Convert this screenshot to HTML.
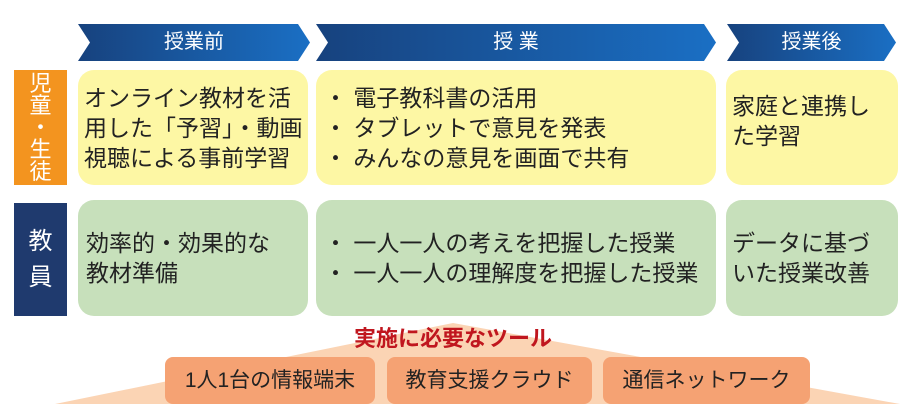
<!DOCTYPE html>
<html><head><meta charset="utf-8"><style>
body{margin:0;width:908px;height:414px;background:#fff;position:relative;overflow:hidden;font-family:"Liberation Sans","Noto Sans CJK JP",sans-serif;}
.a{position:absolute;}
.box{position:absolute;border-radius:16px;color:#222;font-size:23px;line-height:30px;box-sizing:border-box;display:flex;align-items:center;}
.y{background:#fdf7a4;top:70px;height:115px;}
.g{background:#c7e0bb;top:200px;height:116px;}
.lab{position:absolute;left:14px;width:53px;color:#fff;font-size:22px;text-align:center;display:flex;align-items:center;justify-content:center;}
.ct{position:absolute;top:24px;height:37px;color:#fff;font-size:20px;line-height:37px;text-align:center;}
.tool{position:absolute;top:357px;height:47px;background:#f5a273;border-radius:8px;font-size:21px;line-height:47px;text-align:center;color:#222;}
</style></head><body>
<svg class="a" style="left:0;top:0" width="908" height="414">
<defs><linearGradient id="cg" x1="0" x2="1"><stop offset="0" stop-color="#17427e"/><stop offset="1" stop-color="#1a6fc4"/></linearGradient></defs>
<polygon points="78,24 298,24 310,42.5 298,61 78,61 90,42.5" fill="url(#cg)"/>
<polygon points="316,24 704,24 716,42.5 704,61 316,61 328,42.5" fill="url(#cg)"/>
<polygon points="727,24 884,24 896,42.5 884,61 727,61 739,42.5" fill="url(#cg)"/>
<polygon points="453,323 900,404 55,404" fill="#fbd4b4"/>
</svg>
<div class="ct" style="left:90px;width:208px">授業前</div>
<div class="ct" style="left:328px;width:376px">授 業</div>
<div class="ct" style="left:739px;width:145px">授業後</div>
<div class="lab" style="top:70px;height:115px;background:#f3941f;line-height:22px">児<br>童<br>・<br>生<br>徒</div>
<div class="lab" style="top:203px;height:113px;background:#1f3a6e;font-size:24px;line-height:36px">教<br>員</div>
<div class="box y" style="left:78px;width:230px;padding-left:6px">オンライン教材を活<br>用した「予習」・動画<br>視聴による事前学習</div>
<div class="box y" style="left:316px;width:400px;padding-left:8px">・ 電子教科書の活用<br>・ タブレットで意見を発表<br>・ みんなの意見を画面で共有</div>
<div class="box y" style="left:726px;width:172px;padding-left:6px;padding-bottom:14px">家庭と連携し<br>た学習</div>
<div class="box g" style="left:78px;width:230px;padding-left:8px">効率的・効果的な<br>教材準備</div>
<div class="box g" style="left:316px;width:400px;padding-left:8px">・ 一人一人の考えを把握した授業<br>・ 一人一人の理解度を把握した授業</div>
<div class="box g" style="left:726px;width:172px;padding-left:6px">データに基づ<br>いた授業改善</div>
<div class="a" style="left:320px;width:266px;top:325px;text-align:center;color:#c0161e;font-weight:bold;font-size:22px;line-height:28px">実施に必要なツール</div>
<div class="tool" style="left:165px;width:210px">1人1台の情報端末</div>
<div class="tool" style="left:387px;width:205px">教育支援クラウド</div>
<div class="tool" style="left:603px;width:207px">通信ネットワーク</div>
</body></html>
